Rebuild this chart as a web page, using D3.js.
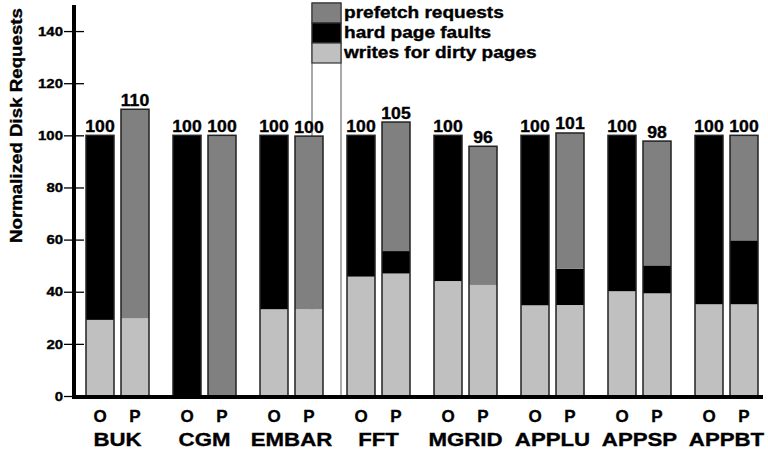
<!DOCTYPE html>
<html>
<head>
<meta charset="utf-8">
<script src="https://cdn.jsdelivr.net/npm/d3@7"></script>
<style>
  html, body { margin: 0; padding: 0; background: #fff; }
  svg { display: block; font-family: "Liberation Sans", Arial, Helvetica, sans-serif; font-weight: bold; }
  svg text { stroke: #000; stroke-width: 0.35px; }
</style>
</head>
<body>
<svg id="chart" width="768" height="452"></svg>
<script>
// Data
const groups = ["BUK", "CGM", "EMBAR", "FFT", "MGRID", "APPLU", "APPSP", "APPBT"];
const variants = ["O", "P"];
const keys = ["writes", "faults", "prefetch"];
const legendLabels = ["writes for dirty pages", "hard page faults", "prefetch requests"];

const writesO   = [29.2, 0, 33.3, 45.8, 44.1, 34.8, 40.2, 35.2];
const faultsO   = [70.8, 100, 66.7, 54.2, 55.9, 65.2, 59.8, 64.8];
const prefetchO = [0, 0, 0, 0, 0, 0, 0, 0];

const writesP   = [29.8, 0, 33.3, 47.0, 42.6, 34.9, 39.4, 35.2];
const faultsP   = [0, 0, 0, 8.6, 0, 13.9, 10.7, 24.5];
const prefetchP = [80.2, 100, 66.4, 49.5, 53.2, 52.1, 47.7, 40.3];

const totalsO = [100, 100, 100, 100, 100, 100, 100, 100];
const totalsP = [110, 100, 100, 105, 96, 101, 98, 100];

const yTicks = [0, 20, 40, 60, 80, 100, 120, 140];

// COLOR SCHEME
const color = new Map([
    ["writes", "#c0c0c0"],
    ["faults", "#000000"],
    ["prefetch", "#808080"]
]);

// rows: one per bar
const rows = [];
groups.forEach((g, i) => {
    rows.push({ group: g, variant: "O", writes: writesO[i], faults: faultsO[i], prefetch: prefetchO[i], label: totalsO[i] });
    rows.push({ group: g, variant: "P", writes: writesP[i], faults: faultsP[i], prefetch: prefetchP[i], label: totalsP[i] });
});

const svg = d3.select("#chart");

const x = d3.scaleBand().domain(groups).range([74, 770]).padding(0);
const xSub = d3.scaleBand().domain(variants).range([12, 75]).paddingInner(0.2);
const y = d3.scaleLinear().domain([0, 150]).range([396, 5]);

// stretch text horizontally (the source picture is a bit wide)
function stretch(sel, k) {
    sel.each(function () {
        const w = this.getComputedTextLength();
        d3.select(this).attr("textLength", w * k).attr("lengthAdjust", "spacingAndGlyphs");
    });
}

// legend backdrop: a white column that runs down to the axis
const lg = { x: 312, w: 29, top: 3, h: 20 };
svg.append("rect")
    .attr("x", lg.x).attr("y", lg.top)
    .attr("width", lg.w).attr("height", y(0) + 1 - lg.top)
    .attr("fill", "#fff")
    .attr("stroke", "#555")
    .attr("stroke-width", 1);

// bars
const stacked = d3.stack().keys(keys)(rows);
const barX = d => x(d.data.group) + xSub(d.data.variant);

svg.append("g").attr("class", "bars")
    .selectAll("g")
    .data(stacked)
    .join("g")
    .attr("fill", s => color.get(s.key))
    .selectAll("rect")
    .data(s => s.filter(d => d[1] - d[0] > 0))
    .join("rect")
    .attr("x", barX)
    .attr("y", d => y(d[1]))
    .attr("width", xSub.bandwidth())
    .attr("height", d => y(d[0]) - y(d[1]));

// bar outlines
svg.append("g").attr("class", "outlines")
    .selectAll("rect")
    .data(rows)
    .join("rect")
    .attr("x", d => x(d.group) + xSub(d.variant))
    .attr("y", d => y(d.writes + d.faults + d.prefetch))
    .attr("width", xSub.bandwidth())
    .attr("height", d => y(0) - y(d.writes + d.faults + d.prefetch))
    .attr("fill", "none")
    .attr("stroke", "#222")
    .attr("stroke-width", 1.5);

// value labels
svg.append("g").attr("class", "values")
    .selectAll("text")
    .data(rows)
    .join("text")
    .attr("x", d => x(d.group) + xSub(d.variant) + xSub.bandwidth() / 2)
    .attr("y", d => y(d.writes + d.faults + d.prefetch) - 3.5)
    .attr("text-anchor", "middle")
    .attr("font-size", 16)
    .attr("fill", "#000")
    .text(d => d.label)
    .call(stretch, 1.1);

// y axis
const yAxis = svg.append("g")
    .attr("transform", `translate(${x.range()[0]},0)`)
    .call(d3.axisLeft(y).tickValues(yTicks).tickSize(10).tickPadding(1).tickSizeOuter(0));
yAxis.select(".domain").remove();
yAxis.selectAll(".tick line").attr("x1", 10).attr("stroke", "#000").attr("stroke-width", 1.3);
yAxis.selectAll(".tick text")
    .attr("font-size", 13)
    .attr("font-family", "Liberation Sans, Arial, sans-serif")
    .attr("font-weight", "bold")
    .attr("fill", "#000")
    .call(stretch, 1.15);
yAxis.select(".tick line").attr("x1", 0);

// heavy axis lines
svg.append("line")
    .attr("x1", x.range()[0]).attr("x2", x.range()[0])
    .attr("y1", y(150)).attr("y2", y(0) + 3)
    .attr("stroke", "#000").attr("stroke-width", 4);
svg.append("line")
    .attr("x1", x.range()[0] - 2).attr("x2", 763)
    .attr("y1", y(0) + 1).attr("y2", y(0) + 1)
    .attr("stroke", "#000").attr("stroke-width", 4);

// O / P labels
svg.append("g").attr("class", "variants")
    .selectAll("text")
    .data(rows)
    .join("text")
    .attr("x", d => x(d.group) + xSub(d.variant) + xSub.bandwidth() / 2)
    .attr("y", 422)
    .attr("text-anchor", "middle")
    .attr("font-size", 17)
    .text(d => d.variant);

// group labels
const xAxis = svg.append("g")
    .attr("transform", `translate(0,${y(0)})`)
    .call(d3.axisBottom(x).tickSize(0).tickPadding(0));
xAxis.select(".domain").remove();
xAxis.selectAll(".tick text")
    .attr("y", 50)
    .attr("dy", 0)
    .attr("font-size", 19)
    .attr("font-family", "Liberation Sans, Arial, sans-serif")
    .attr("font-weight", "bold")
    .attr("fill", "#000")
    .call(stretch, 1.17);

// legend
const legendKeys = keys.slice().reverse();
const legend = svg.append("g").attr("class", "legend");
legend.selectAll("rect")
    .data(legendKeys)
    .join("rect")
    .attr("x", lg.x)
    .attr("y", (k, i) => lg.top + i * lg.h)
    .attr("width", lg.w)
    .attr("height", lg.h)
    .attr("fill", k => color.get(k))
    .attr("stroke", "#333")
    .attr("stroke-width", 1.2);
legend.selectAll("text")
    .data(legendKeys)
    .join("text")
    .attr("x", lg.x + lg.w + 3)
    .attr("y", (k, i) => lg.top + i * lg.h + 14.5)
    .attr("font-size", 16)
    .text(k => legendLabels[keys.indexOf(k)])
    .call(stretch, 1.19);

// y title
svg.append("text")
    .attr("transform", "translate(21.5,125.5) rotate(-90)")
    .attr("text-anchor", "middle")
    .attr("font-size", 16)
    .attr("textLength", 235)
    .attr("lengthAdjust", "spacingAndGlyphs")
    .text("Normalized Disk Requests");
</script>
</body>
</html>
